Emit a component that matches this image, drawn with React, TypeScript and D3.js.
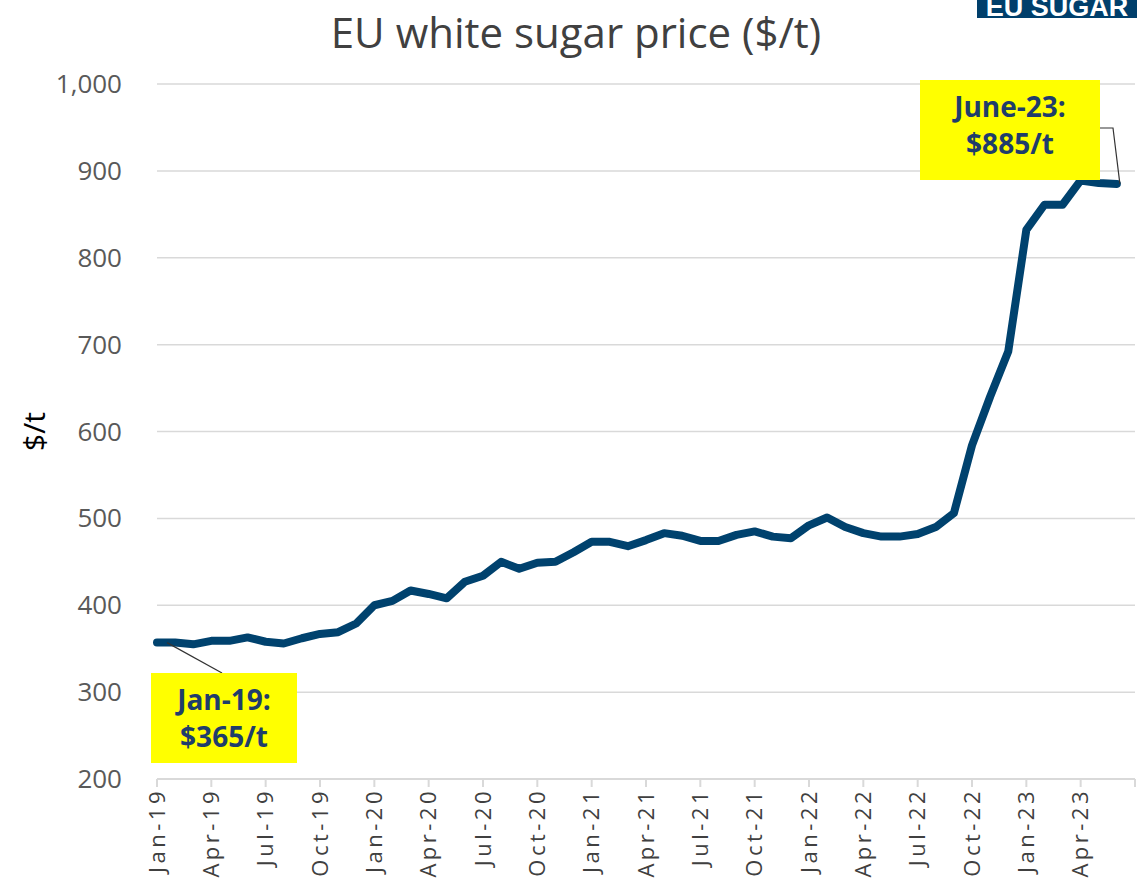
import React, { useEffect, useRef } from 'react';
import * as d3 from 'd3';

// Monthly EU white sugar price, Jan-19 .. Jun-23 ($/t)
const months: string[] = [
  'Jan-19', 'Feb-19', 'Mar-19', 'Apr-19', 'May-19', 'Jun-19', 'Jul-19', 'Aug-19', 'Sep-19', 'Oct-19', 'Nov-19', 'Dec-19',
  'Jan-20', 'Feb-20', 'Mar-20', 'Apr-20', 'May-20', 'Jun-20', 'Jul-20', 'Aug-20', 'Sep-20', 'Oct-20', 'Nov-20', 'Dec-20',
  'Jan-21', 'Feb-21', 'Mar-21', 'Apr-21', 'May-21', 'Jun-21', 'Jul-21', 'Aug-21', 'Sep-21', 'Oct-21', 'Nov-21', 'Dec-21',
  'Jan-22', 'Feb-22', 'Mar-22', 'Apr-22', 'May-22', 'Jun-22', 'Jul-22', 'Aug-22', 'Sep-22', 'Oct-22', 'Nov-22', 'Dec-22',
  'Jan-23', 'Feb-23', 'Mar-23', 'Apr-23', 'May-23', 'Jun-23',
];
const prices: number[] = [
  357, 357, 355, 359, 359, 363, 358, 356, 362, 367, 369, 379,
  400, 405, 417, 413, 408, 427, 434, 450, 442, 449, 450, 461,
  473, 473, 468, 475, 483, 480, 474, 474, 481, 485, 479, 477,
  492, 501, 490, 483, 479, 479, 482, 490, 506, 584, 640, 692,
  832, 861, 861, 889, 886, 885,
];
const yTicks: number[] = [200, 300, 400, 500, 600, 700, 800, 900, 1000];
const tickEvery = 3;

const NAVY = '#00426e';
const FONT = "'Open Sans', 'Noto Sans', sans-serif";

const App = () => {
  const svgRef = useRef<SVGSVGElement>(null);

  useEffect(() => {
    const svg = d3.select(svgRef.current);
    svg.selectAll('*').remove();

    const width = 1143;
    const height = 881;

    const x = d3.scaleLinear().domain([0, months.length]).range([157, 1135]);
    const y = d3.scaleLinear().domain([200, 1000]).range([779, 84]);

    svg.append('rect').attr('width', width).attr('height', height).attr('fill', '#fff');

    // logo block, clipped at the top
    svg.append('rect').attr('x', 977).attr('y', -10).attr('width', 160).attr('height', 28).attr('fill', '#003f6b');
    svg.append('text')
      .attr('x', 1057).attr('y', 16)
      .attr('text-anchor', 'middle')
      .attr('font-family', "'Liberation Sans', Arial, sans-serif")
      .attr('font-weight', 'bold')
      .attr('font-size', 27)
      .attr('fill', '#fff')
      .text('EU SUGAR');

    // title
    svg.append('text')
      .attr('x', 576).attr('y', 48)
      .attr('text-anchor', 'middle')
      .attr('font-family', FONT)
      .attr('font-size', 42)
      .attr('fill', '#404040')
      .text('EU white sugar price ($/t)');

    // gridlines
    svg.append('g').selectAll('line')
      .data(yTicks.filter(t => t > 200))
      .enter().append('line')
      .attr('x1', 157).attr('x2', 1135)
      .attr('y1', d => y(d)).attr('y2', d => y(d))
      .attr('stroke', '#d9d9d9').attr('stroke-width', 1.5);

    // y labels
    svg.append('g').selectAll('text')
      .data(yTicks)
      .enter().append('text')
      .attr('x', 122).attr('y', d => y(d))
      .attr('dy', '0.35em')
      .attr('text-anchor', 'end')
      .attr('font-family', FONT)
      .attr('font-size', 26)
      .attr('fill', '#595959')
      .text(d => d3.format(',')(d));

    svg.append('text')
      .attr('transform', `translate(45, ${y(600)}) rotate(-90)`)
      .attr('text-anchor', 'middle')
      .attr('font-family', FONT)
      .attr('font-size', 30)
      .attr('fill', '#000')
      .text('$/t');

    // x axis
    svg.append('line')
      .attr('x1', 157).attr('x2', 1135)
      .attr('y1', y(200)).attr('y2', y(200))
      .attr('stroke', '#d9d9d9').attr('stroke-width', 2);

    const tickIdx = d3.range(0, months.length + 1, tickEvery);
    svg.append('g').selectAll('line')
      .data(tickIdx)
      .enter().append('line')
      .attr('x1', d => x(d)).attr('x2', d => x(d))
      .attr('y1', y(200)).attr('y2', y(200) + 8)
      .attr('stroke', '#d9d9d9').attr('stroke-width', 2);

    svg.append('g').selectAll('text')
      .data(tickIdx.filter(i => i < months.length))
      .enter().append('text')
      .attr('transform', i => `translate(${x(i)}, 788) rotate(-90)`)
      .attr('dy', '0.35em')
      .attr('text-anchor', 'end')
      .attr('font-family', FONT)
      .attr('font-size', 22)
      .attr('letter-spacing', 3.5)
      .attr('fill', '#404040')
      .text(i => months[i]);

    // price line
    const line = d3.line<number>()
      .x((_, i) => x(i))
      .y(d => y(d));

    svg.append('path')
      .datum(prices)
      .attr('d', line)
      .attr('fill', 'none')
      .attr('stroke', NAVY)
      .attr('stroke-width', 8)
      .attr('stroke-linejoin', 'round')
      .attr('stroke-linecap', 'round');

    // annotations
    const last = prices.length - 1;
    const callout = (bx: number, by: number, bw: number, bh: number, lines: string[]) => {
      svg.append('rect')
        .attr('x', bx).attr('y', by).attr('width', bw).attr('height', bh)
        .attr('fill', '#ffff00');
      lines.forEach((t, k) => {
        svg.append('text')
          .attr('x', bx + bw / 2).attr('y', by + 37 + k * 37)
          .attr('text-anchor', 'middle')
          .attr('font-family', FONT)
          .attr('font-weight', 'bold')
          .attr('font-size', 28)
          .attr('fill', '#1f3d6b')
          .text(t);
      });
    };

    svg.append('path')
      .attr('d', `M${x(0) + 10},${y(prices[0])} L222,673`)
      .attr('fill', 'none').attr('stroke', '#333').attr('stroke-width', 1.2);
    callout(151, 673, 146, 90, ['Jan-19:', '$365/t']);

    svg.append('path')
      .attr('d', `M1100,128 L1113,128 L${x(last) + 3},${y(prices[last])}`)
      .attr('fill', 'none').attr('stroke', '#333').attr('stroke-width', 1.2);
    callout(920, 80, 180, 100, ['June-23:', '$885/t']);
  }, []);

  return (
    <svg
      ref={svgRef}
      width={1143}
      height={881}
      style={{ position: 'absolute', left: 0, top: 0, display: 'block' }}
    />
  );
};

export default App;
